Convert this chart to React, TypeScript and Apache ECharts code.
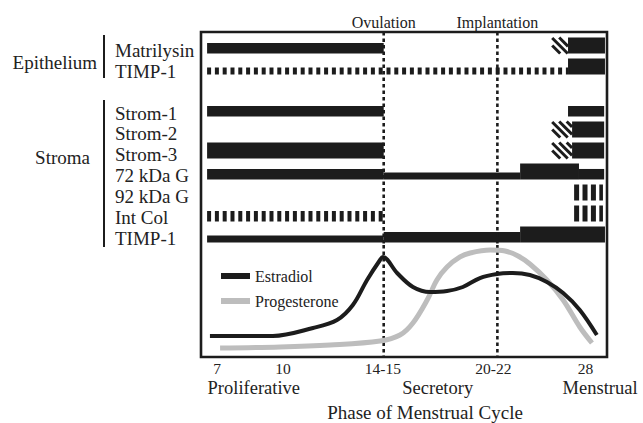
import React, { useEffect, useRef } from 'react';
import * as echarts from 'echarts';

// Row (gene) labels and their row index in the upper panel
const rowLabels = ['Matrilysin', 'TIMP-1', 'Strom-1', 'Strom-2', 'Strom-3', '72 kDa G', '92 kDa G', 'Int Col', 'TIMP-1'];
const rowPositions = [0, 1, 3, 4, 5, 6, 7, 8, 9];

// Cycle events (position on the schematic cycle axis, 0-100)
const eventLabels = ['Ovulation', 'Implantation'];
const eventPositions = [45, 73];

// Day tick labels on the schematic cycle axis
const dayLabels = ['7', '10', '14-15', '20-22', '28'];
const dayPositions = [4, 20.2, 44.8, 72, 94.7];

// Phase labels
const phaseLabels = ['Proliferative', 'Secretory', 'Menstrual'];
const phasePositions = [13, 58.3, 98.3];

// Expression segments: [row, start, end, level (1 low, 2 mid, 3 high), pattern]
const epitheliumSegments: [number, number, number, number, string][] = [
  [0, 1.5, 45, 2, 'solid'],
  [0, 86.5, 90.4, 3, 'hatched'],
  [0, 90.4, 99.5, 3, 'solid'],
  [1, 1.5, 90.4, 1, 'dashed'],
  [1, 90.4, 99.5, 3, 'solid'],
];
const stromaSegments: [number, number, number, number, string][] = [
  [3, 1.5, 45, 2, 'solid'],
  [3, 90.4, 99.3, 2, 'solid'],
  [4, 86.5, 91.4, 3, 'hatched'],
  [4, 91.4, 99.3, 3, 'solid'],
  [5, 1.5, 45, 3, 'solid'],
  [5, 86.5, 91.4, 3, 'hatched'],
  [5, 91.4, 99.3, 3, 'solid'],
  [6, 1.5, 45, 2, 'solid'],
  [6, 45, 78.6, 1, 'solid'],
  [6, 78.6, 93.1, 3, 'solid'],
  [6, 93.1, 99.3, 2, 'solid'],
  [7, 91.9, 99, 3, 'striped'],
  [8, 1.5, 45, 2, 'dashed'],
  [8, 91.9, 99, 3, 'striped'],
  [9, 1.5, 45, 1, 'solid'],
  [9, 45, 78.6, 2, 'solid'],
  [9, 78.6, 99.5, 3, 'solid'],
];

// Hormone levels (relative, 0-100) along the cycle axis
const estradiol = [
  [2.2, 18.8], [17.7, 18.8], [27.6, 25.9], [33.5, 33], [37.4, 46.4], [40.9, 68.8],
  [44.1, 86.6], [44.8, 89.3], [48.3, 75], [52.2, 62.5], [56.4, 58], [60.6, 58.9],
  [64.5, 62.5], [68.7, 70.5], [72.9, 74.1], [76.8, 75], [81, 73.2], [85.2, 67],
  [89.2, 57.1], [93.3, 42], [97.5, 19.6],
];
const progesterone = [
  [4.7, 8], [19.5, 8.9], [31.8, 10.7], [44.1, 14.3], [49, 19.6], [52.2, 30.4],
  [55.7, 50.9], [58.1, 68.8], [60.6, 80.4], [63.8, 89.3], [66.3, 92.9], [71.2, 95.5],
  [74.9, 94.6], [78.1, 90.2], [81, 83], [85.2, 68.8], [89.2, 50.9], [93.3, 26.8], [96.3, 12.5],
];

const INK = '#1c1c1c';
const FONT = 'Liberation Serif';
const levelHeight: Record<number, number> = { 1: 7, 2: 10.5, 3: 16 };

function hatchLines(x0: number, y0: number, w: number, h: number) {
  const children: any[] = [];
  const pitch = 7.5;
  for (let d = -h / 2; d < w - 2; d += pitch) {
    const s0 = Math.max(0, -d);
    const s1 = Math.min(h, w - d);
    if (s1 <= s0) continue;
    children.push({
      type: 'line',
      shape: { x1: x0 + d + s0, y1: y0 + s0, x2: x0 + d + s1, y2: y0 + s1 },
      style: { stroke: INK, lineWidth: 3 },
    });
  }
  return children;
}

export default function App() {
  const ref = useRef<HTMLDivElement>(null);
  useEffect(() => {
    if (!ref.current) return;
    const chart = echarts.init(ref.current, null, { renderer: 'svg' });
    const segments = [...epitheliumSegments, ...stromaSegments];

    const segRender = (params: any, api: any) => {
      const [row, start, end, level, kind] = segments[params.dataIndex];
      const p0 = api.coord([start, row]);
      const p1 = api.coord([end, row]);
      const h = levelHeight[level];
      const bottom = p0[1] + 3.5;
      const top = bottom - h;
      const w = p1[0] - p0[0];
      if (kind === 'solid') {
        return { type: 'rect', shape: { x: p0[0], y: top, width: w, height: h }, style: { fill: INK } };
      }
      if (kind === 'dashed' || kind === 'striped') {
        return {
          type: 'line',
          shape: { x1: p0[0], y1: top + h / 2, x2: p1[0], y2: top + h / 2 },
          style: { stroke: INK, lineWidth: h, lineDash: kind === 'dashed' ? [4, 3.8] : [5, 3.4], lineCap: 'butt' },
        };
      }
      return { type: 'group', children: hatchLines(p0[0], top, w, h) };
    };

    const eventRender = (params: any, api: any) => {
      const x = api.coord([api.value(0), 0])[0];
      const cs = params.coordSys;
      return {
        type: 'line',
        shape: { x1: x, y1: cs.y, x2: x, y2: cs.y + cs.height },
        style: { stroke: INK, lineWidth: 2.6, lineDash: [3.5, 3] },
      };
    };

    chart.setOption({
      animation: false,
      backgroundColor: '#ffffff',
      textStyle: { fontFamily: FONT, color: '#222' },
      grid: [
        { left: 201, top: 32, width: 406, height: 213 },
        { left: 201, top: 245, width: 406, height: 112 },
      ],
      xAxis: [
        {
          gridIndex: 0, type: 'value', min: 0, max: 100, position: 'top',
          axisLine: { show: false }, axisTick: { show: false }, splitLine: { show: false },
          axisLabel: {
            customValues: eventPositions,
            formatter: (v: number) => eventLabels[eventPositions.indexOf(v)] ?? '',
            fontSize: 16, fontFamily: FONT, color: '#222', margin: 10, verticalAlign: 'middle',
          },
        },
        {
          gridIndex: 1, type: 'value', min: 0, max: 100, position: 'bottom',
          axisLine: { show: false }, axisTick: { show: false }, splitLine: { show: false },
          axisLabel: {
            customValues: dayPositions,
            formatter: (v: number) => dayLabels[dayPositions.indexOf(v)] ?? '',
            fontSize: 15.5, fontFamily: FONT, color: '#222', margin: 11, verticalAlign: 'middle',
          },
        },
        {
          gridIndex: 1, type: 'value', min: 0, max: 100, position: 'bottom',
          axisLine: { show: false }, axisTick: { show: false }, splitLine: { show: false },
          axisLabel: {
            customValues: phasePositions,
            formatter: (v: number) => phaseLabels[phasePositions.indexOf(v)] ?? '',
            fontSize: 18.5, fontFamily: FONT, color: '#222', margin: 30.5, verticalAlign: 'middle',
          },
        },
      ],
      yAxis: [
        {
          gridIndex: 0, type: 'value', inverse: true, min: -0.86, max: 9.29,
          axisLine: { show: false }, axisTick: { show: false }, splitLine: { show: false },
          axisLabel: {
            customValues: rowPositions,
            formatter: (v: number) => rowLabels[rowPositions.indexOf(v)] ?? '',
            fontSize: 19, fontFamily: FONT, color: '#222', align: 'left', margin: 86,
          },
        },
        {
          gridIndex: 1, type: 'value', min: 0, max: 100, show: false,
          splitLine: { show: false },
        },
      ],
      legend: {
        data: ['Estradiol', 'Progesterone'],
        orient: 'vertical', left: 221, top: 268, itemWidth: 29, itemHeight: 6, itemGap: 9,
        icon: 'rect', padding: 0,
        textStyle: { fontSize: 16, fontFamily: FONT, color: '#222' },
      },
      series: [
        {
          type: 'custom', name: 'expression', xAxisIndex: 0, yAxisIndex: 0,
          data: segments.map((s) => [s[0], s[1], s[2]]),
          encode: { x: [1, 2], y: 0 },
          renderItem: segRender, z: 2,
        },
        {
          type: 'custom', name: 'events-top', xAxisIndex: 0, yAxisIndex: 0,
          data: eventPositions.map((v) => [v]), encode: { x: 0 },
          renderItem: eventRender, z: 3,
        },
        {
          type: 'custom', name: 'events-bottom', xAxisIndex: 1, yAxisIndex: 1,
          data: eventPositions.map((v) => [v]), encode: { x: 0 },
          renderItem: eventRender, z: 2,
        },
        {
          type: 'line', name: 'Progesterone', xAxisIndex: 1, yAxisIndex: 1,
          data: progesterone, smooth: 0.35, showSymbol: false, z: 4,
          color: '#bdbdbd', lineStyle: { color: '#bdbdbd', width: 5 },
        },
        {
          type: 'line', name: 'Estradiol', xAxisIndex: 1, yAxisIndex: 1,
          data: estradiol, smooth: 0.35, showSymbol: false, z: 5,
          color: INK, lineStyle: { color: INK, width: 4 },
        },
      ],
      graphic: [
        { type: 'rect', shape: { x: 201, y: 32, width: 406, height: 325 }, style: { fill: 'none', stroke: INK, lineWidth: 2.6 }, z: 10 },
        { type: 'text', x: 97, y: 62, style: { text: 'Epithelium', fontSize: 19, fontFamily: FONT, fill: '#222', align: 'right', verticalAlign: 'middle' } },
        { type: 'line', shape: { x1: 104, y1: 35, x2: 104, y2: 78 }, style: { stroke: INK, lineWidth: 2 } },
        { type: 'text', x: 90, y: 157.5, style: { text: 'Stroma', fontSize: 19, fontFamily: FONT, fill: '#222', align: 'right', verticalAlign: 'middle' } },
        { type: 'line', shape: { x1: 104, y1: 100, x2: 104, y2: 247 }, style: { stroke: INK, lineWidth: 2 } },
        { type: 'text', x: 425, y: 412.5, style: { text: 'Phase of Menstrual Cycle', fontSize: 19, fontFamily: FONT, fill: '#222', align: 'center', verticalAlign: 'middle' } },
      ],
    });
    return () => chart.dispose();
  }, []);
  return <div ref={ref} style={{ position: 'fixed', left: 0, top: 0, width: 643, height: 423 }} />;
}
